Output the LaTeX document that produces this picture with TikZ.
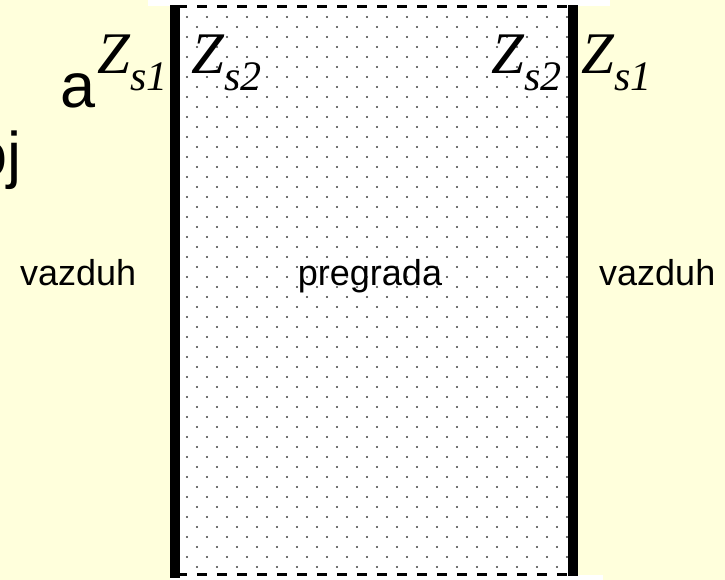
\documentclass[tikz,border=0pt]{standalone}
\usepackage{fontspec}
\setmainfont{Liberation Sans}
\newfontfamily\timesfont{Liberation Serif}
\usetikzlibrary{positioning}
\definecolor{slideyellow}{HTML}{FFFFDC}
\definecolor{dotgray}{HTML}{404040}
\newcommand{\zsub}[1]{{\timesfont\itshape Z\raisebox{-0.28em}{\fontsize{42}{42}\selectfont s#1}}}

\begin{document}
\begin{tikzpicture}[
		x=1pt,
		y=-1pt,
		main node/.style={inner sep=0pt, anchor=base west, font=\fontsize{36}{36}\selectfont},
		z node/.style={inner sep=0pt, anchor=base west, font=\fontsize{59}{59}\selectfont},
		big node/.style={inner sep=0pt, anchor=base east, font=\fontsize{63}{63}\selectfont},
		edge line/.style={line width=3pt, dash pattern=on 10pt off 10pt}
		]
		\useasboundingbox (0,0) rectangle (725,580);
		\clip (0,0) rectangle (725,580);
		\fill[slideyellow] (0,0) rectangle (725,580);
		\fill[white] (148,0) rectangle (610,6);
		\fill[white] (170,575) rectangle (603,580);
		\fill[white] (180,5) rectangle (568,576);
		
		% dotted wall
		\foreach \y in {17,37,...,557}
			\foreach \x in {187,207,...,567}
				\fill[dotgray] (\x,\y) circle (1.1);
		\foreach \y in {27,47,...,567}
			\foreach \x in {197,217,...,557}
				\fill[dotgray] (\x,\y) circle (1.1);
		
		\draw[edge line] (177,6.5) -- (568,6.5);
		\draw[edge line] (177,574.5) -- (568,574.5);
		\fill (170,5) rectangle (180,578);
		\fill (568,5) rectangle (578,576);
		
		\node[big node] (line a) at (96,108) {a};
		\node[big node] (line oj) at (22,177) {oj};
		
		\node[z node] (zs1 left) at (97,74) {\zsub{1}};
		\node[z node] (zs2 left) at (191,74) {\zsub{2}};
		\node[z node] (zs2 right) at (491,74) {\zsub{2}};
		\node[z node] (zs1 right) at (581,74) {\zsub{1}};
		
		\node[main node] (air left) at (20,285) {vazduh};
		\node[main node, anchor=base] (wall) at (370,285) {pregrada};
		\node[main node] (air right) at (599,285) {vazduh};
	\end{tikzpicture}
\end{document}
